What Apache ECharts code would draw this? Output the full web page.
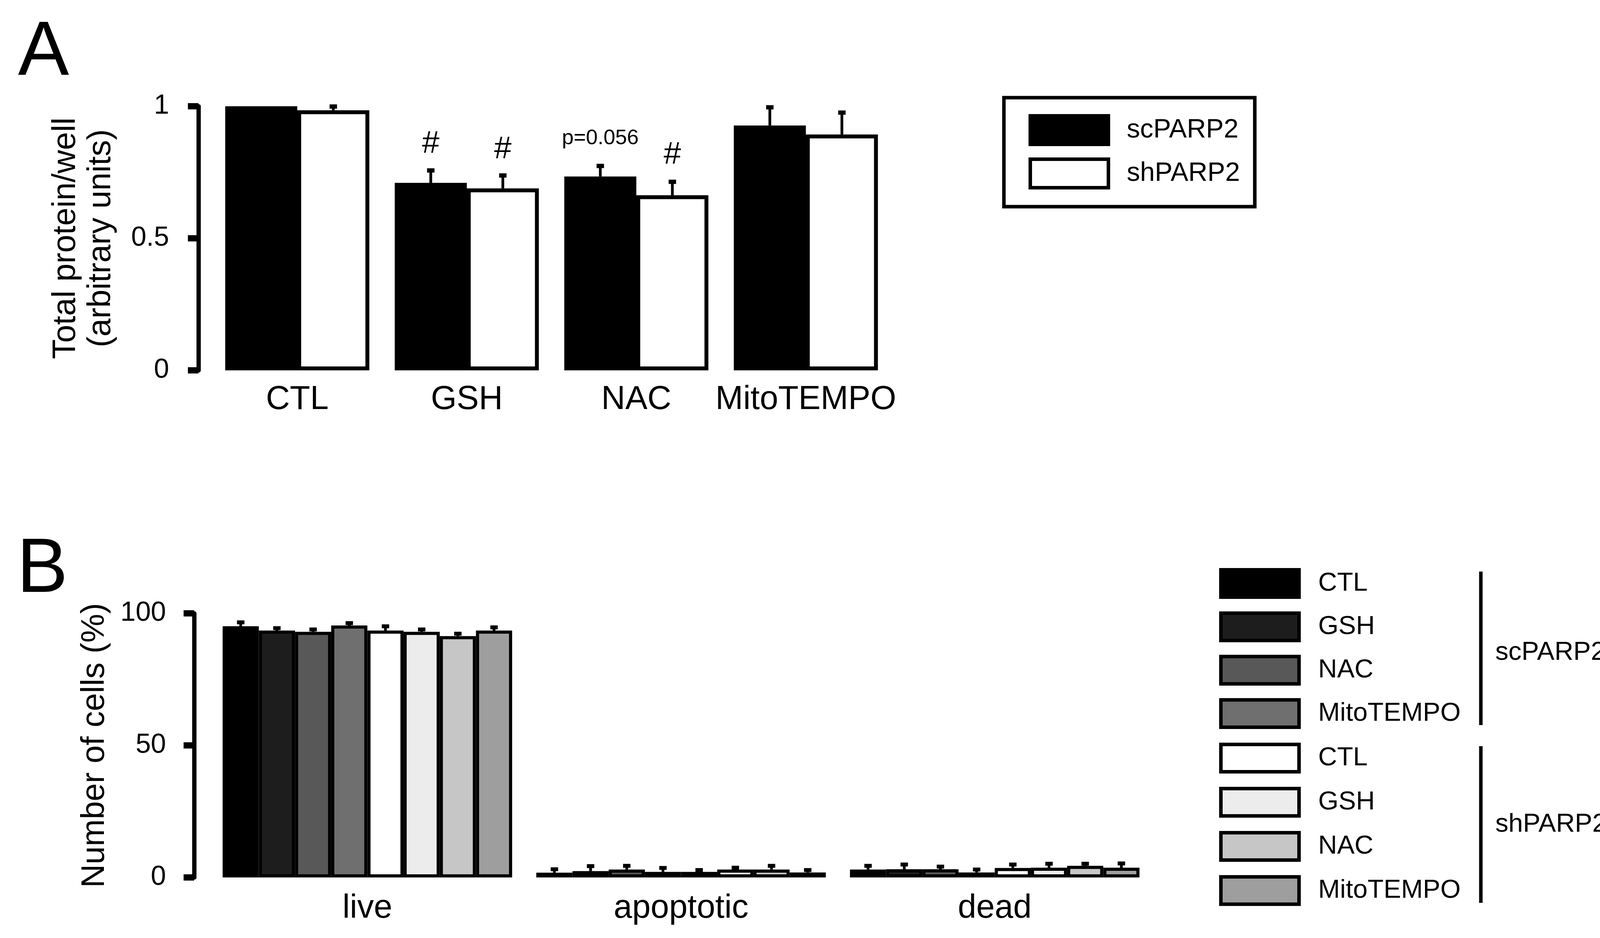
<!DOCTYPE html>
<html><head><meta charset="utf-8">
<script src="https://cdn.jsdelivr.net/npm/echarts@6/dist/echarts.min.js"></script>
<style>html,body{margin:0;padding:0;background:#fff;overflow:hidden}#c{width:4146px;height:2401px}</style>
</head><body><div id="c"></div>
<script>
const FONT = "'Liberation Sans', Arial, Helvetica, sans-serif";

// ---------- Panel A data ----------
const catsA = ['CTL', 'GSH', 'NAC', 'MitoTEMPO'];
const namesA = ['scPARP2', 'shPARP2'];
const scA = [1.000, 0.710, 0.734, 0.927];
const scErrA = [0, 0.047, 0.040, 0.069];
const shA = [0.985, 0.689, 0.663, 0.893];
const shErrA = [0.014, 0.049, 0.051, 0.083];
const annotCatA = [1, 1, 2, 2];
const annotSerA = [0, 1, 0, 1];
const annotYA = [0.857, 0.836, 0.879, 0.815];
const annotTextA = ['#', '#', 'p=0.056', '#'];

// ---------- Panel B data ----------
const catsB = ['live', 'apoptotic', 'dead'];
const treatB = ['CTL', 'GSH', 'NAC', 'MitoTEMPO'];
const groupsB = ['scPARP2', 'shPARP2'];
const scCTL = [95.1, 1.8, 3.0],  scCTLErr = [1.5, 1.3, 1.4];
const scGSH = [93.5, 2.4, 3.1],  scGSHErr = [0.9, 1.9, 1.8];
const scNAC = [93.0, 3.0, 3.1],  scNACErr = [0.9, 1.4, 1.0];
const scMito = [95.4, 2.1, 1.9], scMitoErr = [0.9, 1.5, 1.1];
const shCTL = [93.5, 2.1, 3.6],  shCTLErr = [1.6, 0.7, 1.3];
const shGSH = [93.0, 3.0, 3.7],  shGSHErr = [0.9, 0.7, 1.5];
const shNAC = [91.4, 3.0, 4.4],  shNACErr = [0.9, 1.4, 0.8];
const shMito = [93.5, 1.9, 3.7], shMitoErr = [1.2, 0.9, 1.6];

const valsB = [scCTL, scGSH, scNAC, scMito, shCTL, shGSH, shNAC, shMito];
const errsB = [scCTLErr, scGSHErr, scNACErr, scMitoErr, shCTLErr, shGSHErr, shNACErr, shMitoErr];
const colorsB = ['#000000', '#1d1d1d', '#585858', '#6f6f6f', '#ffffff', '#ececec', '#c6c6c6', '#9e9e9e'];
const namesB = [];
groupsB.forEach(g => treatB.forEach(t => namesB.push(g + '|' + t)));

const GAP_A = 0.15, GAP_B = 0.077;

function errSeries(xi, vals, errs, sIdx, n, gap, capW, capH, lw) {
  return {
    type: 'custom', xAxisIndex: xi, yAxisIndex: xi, silent: true, z: 5,
    data: vals.map((v, i) => [i, v, errs[i]]),
    renderItem: function (params, api) {
      const e = api.value(2);
      if (!e) return null;
      const band = api.size([1, 0])[0];
      const bw = band * (1 - gap) / n;
      const cx = api.coord([api.value(0), 0])[0] + (sIdx - (n - 1) / 2) * bw;
      const yb = api.coord([api.value(0), api.value(1)])[1];
      const yt = api.coord([api.value(0), api.value(1) + e])[1];
      return {
        type: 'group', children: [
          { type: 'line', shape: { x1: cx, y1: yb, x2: cx, y2: yt }, style: { stroke: '#000', lineWidth: lw } },
          { type: 'rect', shape: { x: cx - capW / 2, y: yt - capH / 2, width: capW, height: capH }, style: { fill: '#000' } }
        ]
      };
    }
  };
}

const series = [];
// Panel A bars
series.push({ name: namesA[0], type: 'bar', xAxisIndex: 0, yAxisIndex: 0, data: scA, barGap: '0%', barCategoryGap: (GAP_A * 100) + '%',
  itemStyle: { color: '#000', borderColor: '#000', borderWidth: 10 }, silent: true });
series.push({ name: namesA[1], type: 'bar', xAxisIndex: 0, yAxisIndex: 0, data: shA, barGap: '0%', barCategoryGap: (GAP_A * 100) + '%',
  itemStyle: { color: '#fff', borderColor: '#000', borderWidth: 10 }, silent: true });
series.push(errSeries(0, scA, scErrA, 0, 2, GAP_A, 19, 11, 7));
series.push(errSeries(0, shA, shErrA, 1, 2, GAP_A, 19, 11, 7));
// annotations
series.push({
  type: 'custom', xAxisIndex: 0, yAxisIndex: 0, silent: true, z: 6,
  data: annotYA.map((y, i) => [annotCatA[i], y]),
  renderItem: function (params, api) {
    const i = params.dataIndex;
    const band = api.size([1, 0])[0];
    const bw = band * (1 - GAP_A) / 2;
    const p = api.coord([api.value(0), api.value(1)]);
    const cx = p[0] + (annotSerA[i] - 0.5) * bw;
    const t = annotTextA[i];
    return { type: 'text', style: { text: t, x: cx, y: p[1], align: 'center', verticalAlign: 'middle',
      textAlign: 'center', textVerticalAlign: 'middle', fontSize: t === '#' ? 80 : 54, fontFamily: FONT, fill: '#000' } };
  }
});
// Panel B bars
valsB.forEach((v, k) => {
  series.push({ name: namesB[k], type: 'bar', xAxisIndex: 1, yAxisIndex: 1, data: v, barGap: '0%', barCategoryGap: (GAP_B * 100) + '%',
    itemStyle: { color: colorsB[k], borderColor: '#000', borderWidth: 8 }, silent: true });
});
valsB.forEach((v, k) => series.push(errSeries(1, v, errsB[k], k, 8, GAP_B, 19, 10, 7)));

const axisLabelStyle = { color: '#000', fontFamily: FONT, fontSize: 70 };
const option = {
  backgroundColor: '#fff',
  animation: false,
  textStyle: { fontFamily: FONT, color: '#000' },
  grid: [
    { left: 544, width: 1736, top: 272, height: 676 },
    { left: 539, width: 2409, top: 1570, height: 676 }
  ],
  xAxis: [
    { type: 'category', gridIndex: 0, data: catsA, axisLine: { show: false }, axisTick: { show: false },
      axisLabel: { interval: 0, margin: 33, color: '#000', fontFamily: FONT, fontSize: 85 } },
    { type: 'category', gridIndex: 1, data: catsB, axisLine: { show: false }, axisTick: { show: false },
      axisLabel: { interval: 0, margin: 37, color: '#000', fontFamily: FONT, fontSize: 85 } }
  ],
  yAxis: [
    { type: 'value', gridIndex: 0, min: 0, max: 1, interval: 0.5, offset: 36,
      name: 'Total protein/well\n(arbitrary units)', nameLocation: 'middle', nameRotate: 90, nameGap: 204,
      nameTextStyle: { color: '#000', fontFamily: FONT, fontSize: 83, lineHeight: 90 },
      splitLine: { show: false },
      axisLine: { show: true, lineStyle: { color: '#000', width: 11 } },
      axisTick: { show: true, length: 27, lineStyle: { color: '#000', width: 16 } },
      axisLabel: Object.assign({ margin: 75 }, axisLabelStyle) },
    { type: 'value', gridIndex: 1, min: 0, max: 100, interval: 50, offset: 42,
      name: 'Number of cells (%)', nameLocation: 'middle', nameRotate: 90, nameGap: 209,
      nameTextStyle: { color: '#000', fontFamily: FONT, fontSize: 83, lineHeight: 90 },
      splitLine: { show: false },
      axisLine: { show: true, lineStyle: { color: '#000', width: 11 } },
      axisTick: { show: true, length: 27, lineStyle: { color: '#000', width: 16 } },
      axisLabel: Object.assign({ margin: 72 }, axisLabelStyle) }
  ],
  legend: [
    { data: namesA, orient: 'vertical', left: 2570, top: 250, itemWidth: 200, itemHeight: 73, itemGap: 29,
      padding: [42, 38, 44, 63], borderColor: '#000', borderWidth: 9, icon: 'rect', selectedMode: false,
      itemStyle: { borderColor: '#000', borderWidth: 9 },
      textStyle: { color: '#000', fontFamily: FONT, fontSize: 68, lineHeight: 73, padding: [0, 0, 0, 42] } },
    { data: namesB.slice(0, 4), orient: 'vertical', left: 3121, top: 1454, itemWidth: 200, itemHeight: 70, itemGap: 32,
      padding: 0, icon: 'rect', selectedMode: false, formatter: n => n.split('|')[1],
      itemStyle: { borderColor: '#000', borderWidth: 9 },
      textStyle: { color: '#000', fontFamily: FONT, fontSize: 67, lineHeight: 70, padding: [0, 0, 0, 44] } },
    { data: namesB.slice(4), orient: 'vertical', left: 3121, top: 1901, itemWidth: 200, itemHeight: 70, itemGap: 34,
      padding: 0, icon: 'rect', selectedMode: false, formatter: n => n.split('|')[1],
      itemStyle: { borderColor: '#000', borderWidth: 9 },
      textStyle: { color: '#000', fontFamily: FONT, fontSize: 67, lineHeight: 70, padding: [0, 0, 0, 44] } }
  ],
  graphic: [
    { type: 'text', left: 46, top: 40, style: { text: 'A', fontSize: 196, fontFamily: FONT, fill: '#000' } },
    { type: 'text', left: 43, top: 1363, style: { text: 'B', fontSize: 196, fontFamily: FONT, fill: '#000' } },
    { type: 'line', shape: { x1: 3791, y1: 1463, x2: 3791, y2: 1856 }, style: { stroke: '#000', lineWidth: 9 } },
    { type: 'line', shape: { x1: 3791, y1: 1910, x2: 3791, y2: 2311 }, style: { stroke: '#000', lineWidth: 9 } },
    { type: 'text', x: 3828, y: 1671, style: { text: groupsB[0], fontSize: 67, fontFamily: FONT, fill: '#000', textVerticalAlign: 'middle', verticalAlign: 'middle' } },
    { type: 'text', x: 3828, y: 2111, style: { text: groupsB[1], fontSize: 67, fontFamily: FONT, fill: '#000', textVerticalAlign: 'middle', verticalAlign: 'middle' } }
  ],
  series: series
};
const chart = echarts.init(document.getElementById('c'), null, { renderer: 'canvas' });
chart.setOption(option);
</script>
</body></html>
